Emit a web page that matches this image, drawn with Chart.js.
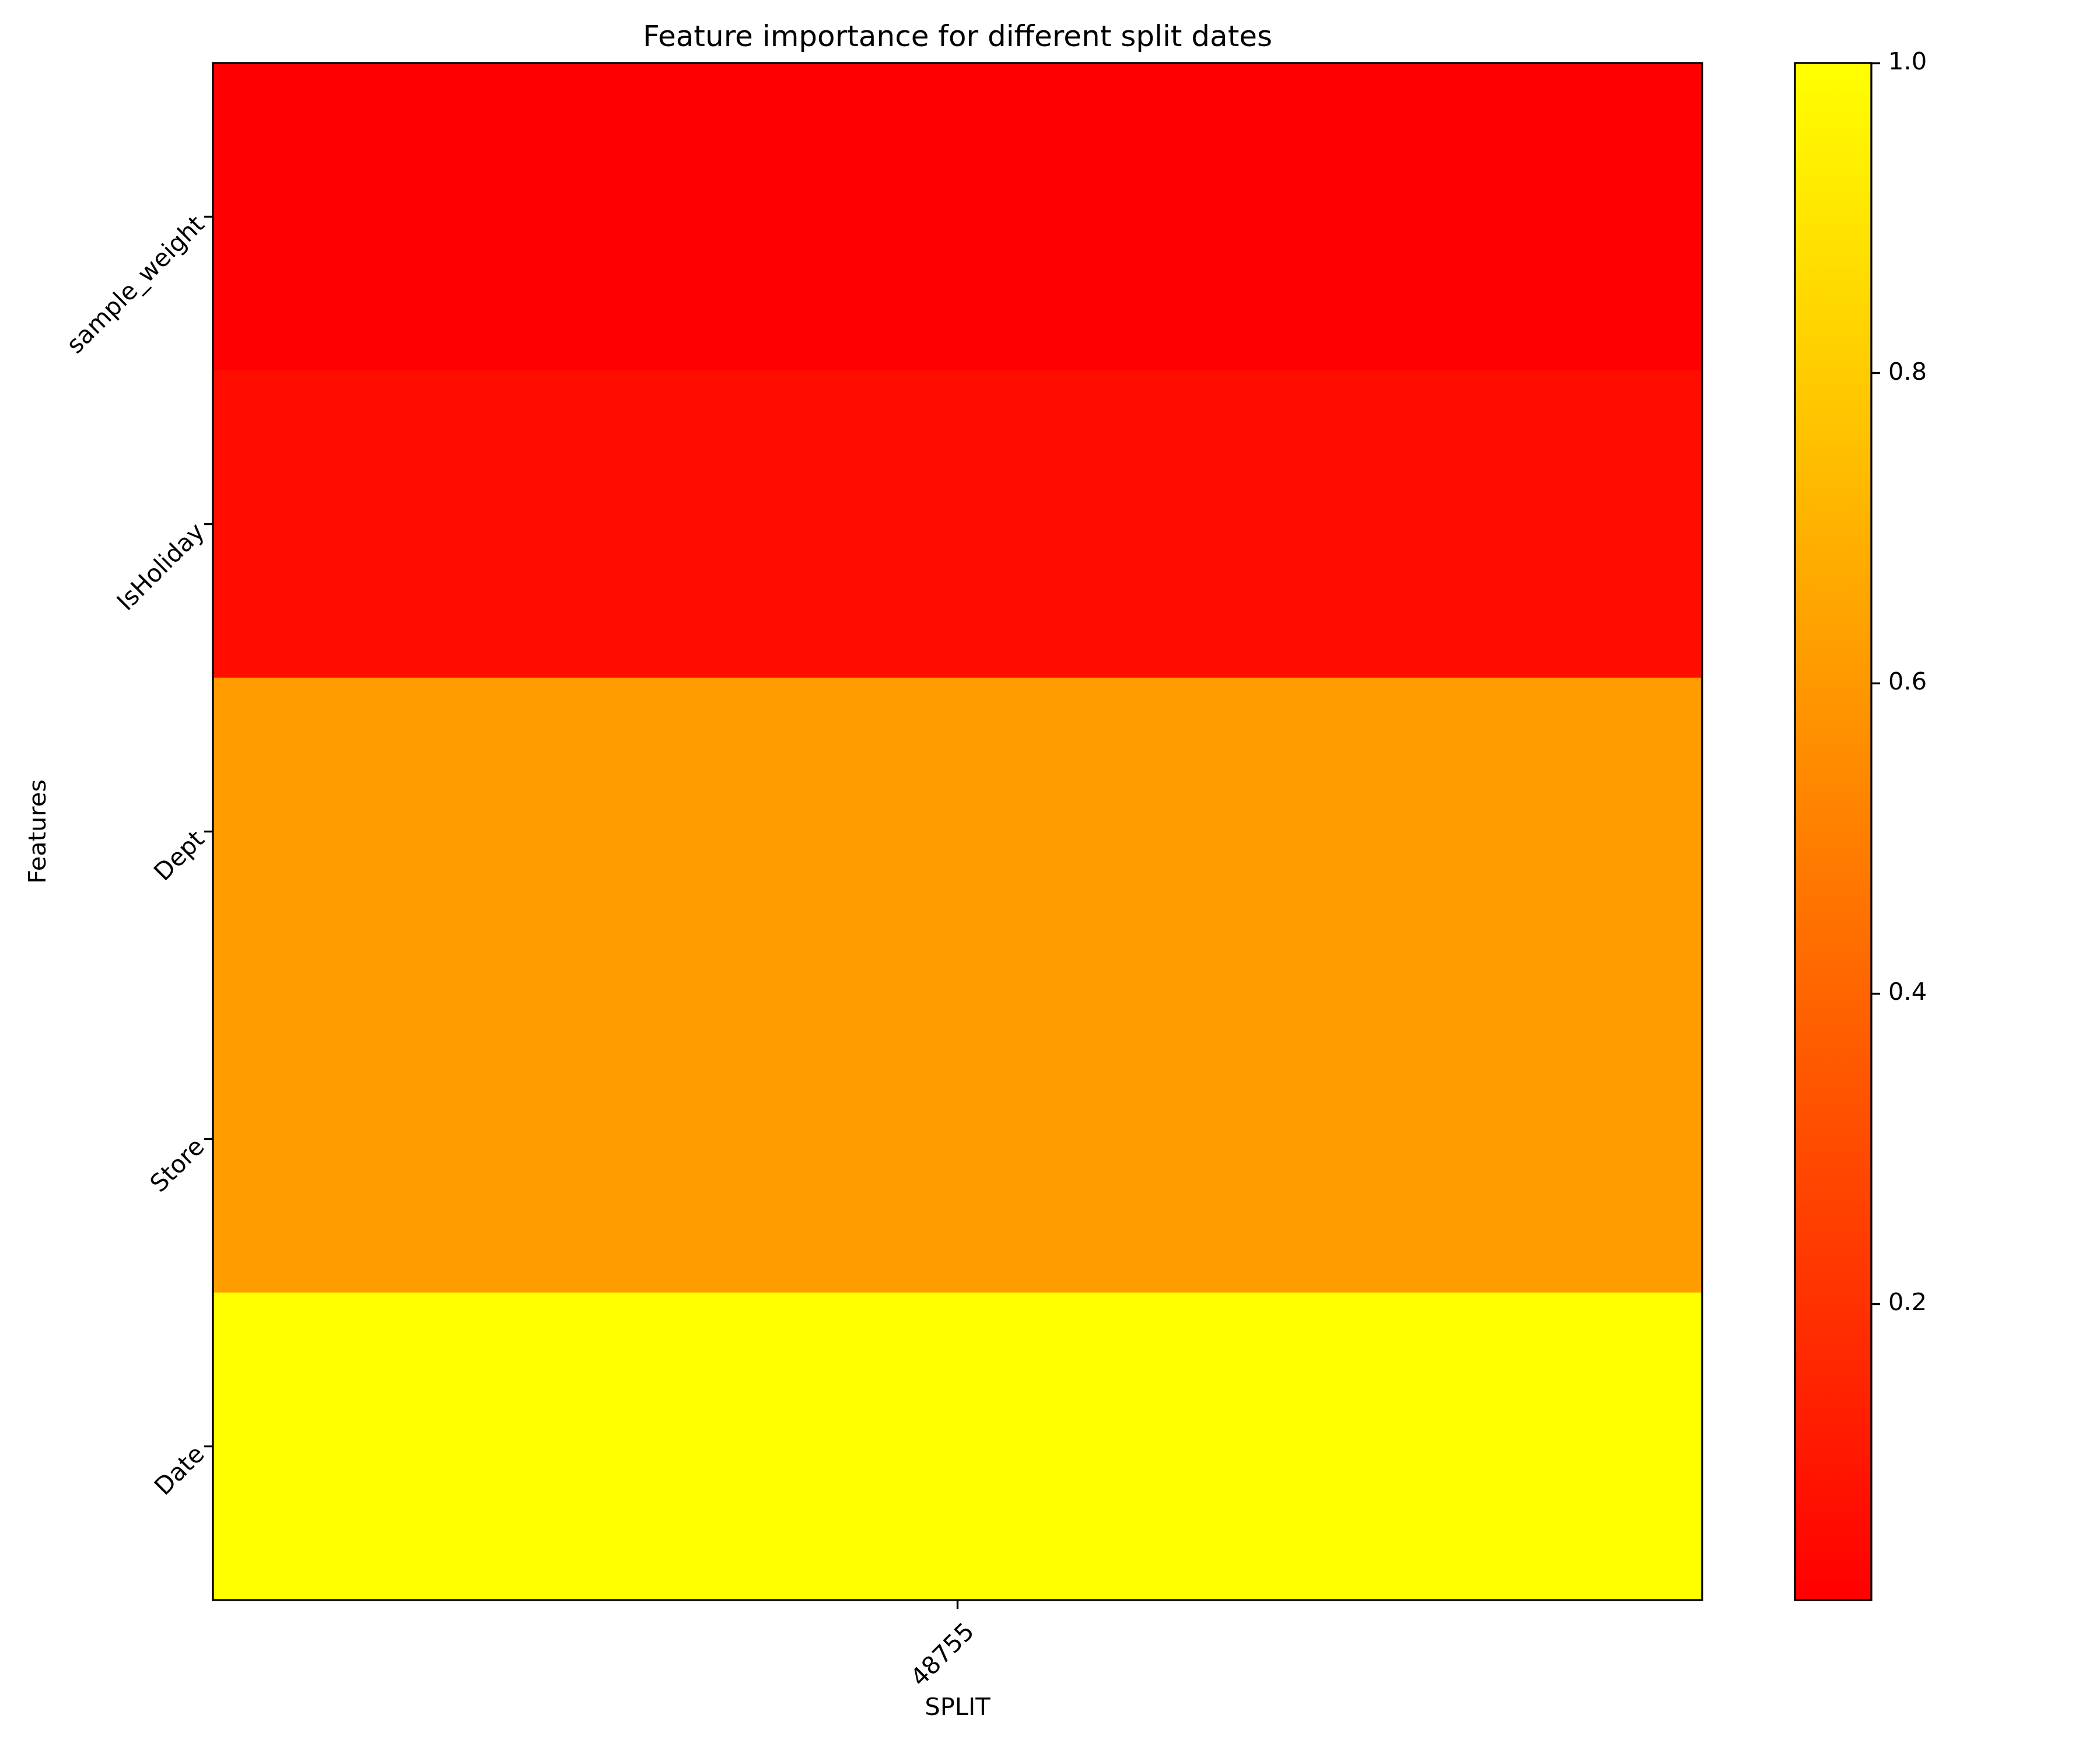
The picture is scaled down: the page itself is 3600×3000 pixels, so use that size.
<!DOCTYPE html>
<html>
<head>
<meta charset="utf-8">
<script src="https://cdn.jsdelivr.net/npm/chart.js@4.4.1/dist/chart.umd.min.js"></script>
<style>
  html, body { margin: 0; padding: 0; background: #ffffff; }
  #wrap { position: relative; width: 3600px; height: 3000px; background: #ffffff; }
  canvas { position: absolute; left: 0; top: 0; width: 3600px; height: 3000px; }
</style>
</head>
<body>
<div id="wrap">
  <canvas id="main" width="3600" height="3000"></canvas>
  <canvas id="cbar" width="3600" height="3000"></canvas>
</div>
<script>
// ---- data ----
const chartTitle = 'Feature importance for different split dates';
const features = ['sample_weight', 'IsHoliday', 'Dept', 'Store', 'Date'];
const splitLabels = ['48755'];
const importance48755 = [0.009, 0.062, 0.615, 0.615, 1.0];
const colorbarTicks = [0.2, 0.4, 0.6, 0.8, 1.0];
const xAxisTitle = 'SPLIT';
const yAxisTitle = 'Features';

// ---- helpers ----
const columns = [importance48755];
const allValues = columns.flat();
const vmin = Math.min(...allValues);
const vmax = Math.max(...allValues);
function autumn(t) {
  t = Math.max(0, Math.min(1, t));
  return 'rgb(255,' + Math.round(255 * t) + ',0)';
}
function colorFor(v) { return autumn((v - vmin) / (vmax - vmin)); }

const FONT = 'DejaVu Sans';
const tickFont = { family: FONT, size: 41.67, weight: 'normal', lineHeight: 1.2 };
const BLACK = '#000000';

const framePlugin = {
  id: 'frame',
  afterDatasetsDraw(chart) {
    const a = chart.chartArea;
    const c = chart.ctx;
    c.save();
    c.strokeStyle = BLACK;
    c.lineWidth = 3.33;
    c.strokeRect(a.left, a.top, a.right - a.left, a.bottom - a.top);
    c.restore();
  }
};

const tickGrid = {
  display: true, drawOnChartArea: false, drawTicks: true,
  tickLength: 15, tickWidth: 3.33, tickColor: BLACK, offset: false
};

// ---- main heatmap ----
const datasets = columns.map((vals, i) => ({
  label: splitLabels[i],
  data: vals.map(() => [i - 0.5, i + 0.5]),
  backgroundColor: vals.map(colorFor),
  borderWidth: 0,
  borderSkipped: false,
  barPercentage: 1,
  categoryPercentage: 1,
  grouped: false
}));

new Chart(document.getElementById('main'), {
  type: 'bar',
  data: { labels: features, datasets },
  plugins: [framePlugin],
  options: {
    devicePixelRatio: 1,
    responsive: false,
    animation: false,
    events: [],
    indexAxis: 'y',
    layout: { padding: { left: 0, right: 682, top: 0, bottom: 0 } },
    plugins: {
      legend: { display: false },
      tooltip: { enabled: false },
      title: {
        display: true, text: chartTitle, fullSize: false, color: BLACK,
        font: { family: FONT, size: 50, weight: 'normal', lineHeight: 1.2 },
        padding: { top: 36, bottom: 12 }
      }
    },
    scales: {
      x: {
        type: 'linear',
        min: -0.5,
        max: splitLabels.length - 0.5,
        afterBuildTicks: s => { s.ticks = splitLabels.map((_, i) => ({ value: i })); },
        ticks: {
          callback: v => splitLabels[Math.round(v)],
          minRotation: 45, maxRotation: 45, autoSkip: false,
          padding: 16, labelOffset: 23, color: BLACK, font: tickFont
        },
        grid: tickGrid,
        border: { display: false },
        title: { display: true, text: xAxisTitle, color: BLACK, font: tickFont, padding: { top: 0, bottom: 46 } },
        afterFit: s => { s.height = 257; }
      },
      y: {
        type: 'category',
        offset: true,
        ticks: {
          minRotation: 45, maxRotation: 45, autoSkip: false,
          padding: 5, labelOffset: 8, color: BLACK, font: tickFont
        },
        grid: tickGrid,
        border: { display: false },
        title: { display: true, text: yAxisTitle, color: BLACK, font: tickFont, padding: { top: 42, bottom: 0 } },
        afterFit: s => { s.width = 365; }
      }
    }
  }
});

// ---- colorbar ----
new Chart(document.getElementById('cbar'), {
  type: 'bar',
  data: {
    labels: ['colorbar'],
    datasets: [{
      data: [[vmin, vmax]],
      backgroundColor: ctx => {
        const ch = ctx.chart;
        const ys = ch.scales && ch.scales.y;
        if (!ys || !ch.chartArea) return autumn(0);
        const g = ch.ctx.createLinearGradient(0, ys.getPixelForValue(vmin), 0, ys.getPixelForValue(vmax));
        g.addColorStop(0, autumn(0));
        g.addColorStop(1, autumn(1));
        return g;
      },
      borderWidth: 0,
      borderSkipped: false,
      barPercentage: 1,
      categoryPercentage: 1
    }]
  },
  plugins: [framePlugin],
  options: {
    devicePixelRatio: 1,
    responsive: false,
    animation: false,
    events: [],
    layout: { padding: { left: 3077, right: 0, top: 108, bottom: 257 } },
    plugins: { legend: { display: false }, tooltip: { enabled: false }, title: { display: false } },
    scales: {
      x: { display: false, offset: true },
      y: {
        type: 'linear',
        position: 'right',
        min: vmin,
        max: vmax,
        afterBuildTicks: s => { s.ticks = colorbarTicks.map(v => ({ value: v })); },
        ticks: { callback: v => v.toFixed(1), padding: 14, color: BLACK, font: tickFont },
        grid: tickGrid,
        border: { display: false },
        afterFit: s => { s.width = 3600 - 3208; }
      }
    }
  }
});
</script>
</body>
</html>
